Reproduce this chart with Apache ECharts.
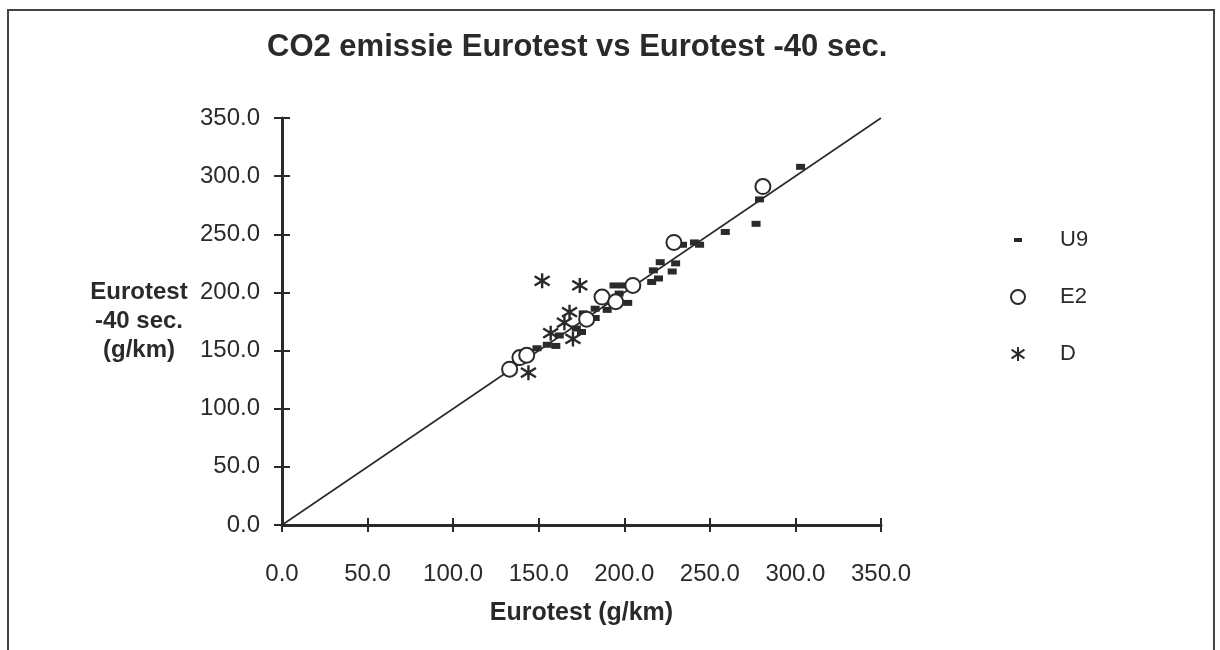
<!DOCTYPE html>
<html>
<head>
<meta charset="utf-8">
<script src="https://cdn.jsdelivr.net/npm/echarts@6/dist/echarts.min.js"></script>
<style>
html,body{margin:0;padding:0;background:#fff;}
#chart{width:1220px;height:650px;}
</style>
</head>
<body>
<div id="chart"></div>
<script>
// Data (x = Eurotest, y = Eurotest -40 sec., g/km)
const titleText = 'CO2 emissie Eurotest vs Eurotest -40 sec.';
const xName = 'Eurotest (g/km)';
const yName = 'Eurotest\n-40 sec.\n(g/km)';
const seriesNames = ['U9', 'E2', 'D'];
const u9 = [[149,152],[155,155],[160,154],[162,163],[172,169],[175,166],[176,182],[183,178],[183,186],[190,185],[194,206],[199,206],[197,199],[202,191],[216,209],[220,212],[217,219],[221,226],[228,218],[230,225],[234,241],[241,243],[244,241],[259,252],[277,259],[279,280],[303,308]];
const e2 = [[133,134],[139,144],[143,146],[178,177],[187,196],[195,192],[205,206],[229,243],[281,291]];
const d = [[152,210],[174,206],[168,183],[165,174],[157,165],[170,160],[144,131]];
const refLine = [[0,0],[350,350]];
const axisMin = 0, axisMax = 350, axisStep = 50;

const ink = '#2a2a2a';
const font = '"Liberation Sans", Arial, sans-serif';
const starPath = 'path://M5,0L5,10M0.4,1.9L9.6,8.1M0.4,8.1L9.6,1.9';
const u9Icon = 'path://M0,0L0,0M14,14L14,14M3,5L11,5L11,9L3,9Z';

const chart = echarts.init(document.getElementById('chart'));
const fmt = v => v.toFixed(1);

const baseX = {
  type: 'value', min: axisMin, max: axisMax, interval: axisStep,
  splitLine: {show: false}
};
const baseY = {
  type: 'value', min: axisMin, max: axisMax, interval: axisStep,
  splitLine: {show: false}
};

chart.setOption({
  backgroundColor: '#fff',
  animation: false,
  textStyle: {fontFamily: font, color: ink},
  title: {
    text: titleText, left: 262, top: 27,
    textStyle: {fontFamily: font, fontWeight: 'bold', fontSize: 31, color: ink}
  },
  grid: {left: 282, right: 339, top: 118, bottom: 125},
  legend: {
    orient: 'vertical', left: 1005, top: 224, itemGap: 35,
    itemWidth: 20, itemHeight: 14,
    textStyle: {fontFamily: font, fontSize: 22, color: ink, padding: [0,0,0,27]},
    data: [
      {name: 'U9', icon: u9Icon},
      {name: 'E2'},
      {name: 'D'}
    ]
  },
  xAxis: [
    Object.assign({}, baseX, {
      position: 'bottom',
      name: xName, nameLocation: 'middle', nameGap: 76,
      nameTextStyle: {fontFamily: font, fontWeight: 'bold', fontSize: 25, color: ink},
      axisLine: {lineStyle: {color: ink, width: 3}},
      axisTick: {length: 7, lineStyle: {color: ink, width: 2}},
      axisLabel: {formatter: fmt, margin: 37, fontSize: 24, color: ink, fontFamily: font}
    }),
    Object.assign({}, baseX, {
      position: 'bottom', offset: 0,
      axisLine: {show: false},
      axisTick: {inside: true, length: 7, lineStyle: {color: ink, width: 2}},
      axisLabel: {show: false}
    })
  ],
  yAxis: [
    Object.assign({}, baseY, {
      position: 'left',
      name: yName, nameLocation: 'middle', nameGap: 143, nameRotate: 0,
      nameTextStyle: {fontFamily: font, fontWeight: 'bold', fontSize: 24, color: ink, align: 'center', lineHeight: 29},
      axisLine: {lineStyle: {color: ink, width: 3}},
      axisTick: {length: 8, lineStyle: {color: ink, width: 2}},
      axisLabel: {formatter: fmt, margin: 22, fontSize: 24, color: ink, fontFamily: font}
    }),
    Object.assign({}, baseY, {
      position: 'left', offset: 0,
      axisLine: {show: false},
      axisTick: {inside: true, length: 8, lineStyle: {color: ink, width: 2}},
      axisLabel: {show: false}
    })
  ],
  series: [
    {
      name: 'ref', type: 'line', data: refLine, showSymbol: false, symbol: 'none',
      lineStyle: {color: ink, width: 1.6}, silent: true, z: 1
    },
    {
      name: seriesNames[0], type: 'scatter', data: u9,
      symbol: 'rect', symbolSize: [9, 6],
      itemStyle: {color: ink, opacity: 1}, z: 3
    },
    {
      name: seriesNames[1], type: 'scatter', data: e2,
      symbol: 'emptyCircle', symbolSize: 15,
      itemStyle: {color: ink, borderColor: ink, borderWidth: 2, opacity: 1}, z: 4
    },
    {
      name: seriesNames[2], type: 'scatter', data: d,
      symbol: starPath, symbolSize: 15,
      itemStyle: {color: ink, borderColor: ink, borderWidth: 2.4, opacity: 1}, z: 5
    }
  ],
  graphic: [
    {
      type: 'polyline', silent: true,
      shape: {points: [[8, 650], [8, 10], [1214, 10], [1214, 650]]},
      style: {stroke: '#444', lineWidth: 2, fill: 'none'}
    }
  ]
});
</script>
</body>
</html>
